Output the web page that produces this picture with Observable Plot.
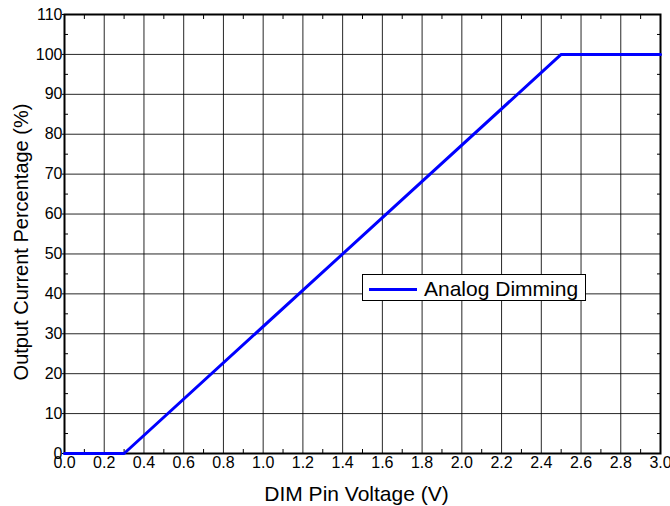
<!DOCTYPE html>
<html>
<head>
<meta charset="utf-8">
<script src="https://cdn.jsdelivr.net/npm/d3@7"></script>
<script src="https://cdn.jsdelivr.net/npm/@observablehq/plot@0.6"></script>
<style>
html, body { margin: 0; padding: 0; background: #fff; }
#wrap { position: relative; width: 670px; height: 506px; font-family: "Liberation Sans", Arial, sans-serif; color: #000; }
#legend { position: absolute; left: 362px; top: 274px; width: 222px; height: 25px; border: 1px solid #000; background: #fff; }
#legend .swatch { position: absolute; left: 6px; top: 12.5px; width: 48px; height: 3px; background: #0000ff; }
#legend .lbl { position: absolute; left: 61px; top: 0px; font-size: 21px; line-height: 27px; white-space: nowrap; }
</style>
</head>
<body>
<div id="wrap"></div>
<script>
// Data
const voltage = [0, 0.3, 2.5, 3.0];           // DIM Pin Voltage (V)
const current = [0, 0, 100, 100];             // Output Current Percentage (%)
const seriesName = "Analog Dimming";

// Tick values
const xTicks = [0, 0.2, 0.4, 0.6, 0.8, 1.0, 1.2, 1.4, 1.6, 1.8, 2.0, 2.2, 2.4, 2.6, 2.8, 3.0];
const yTicks = [0, 10, 20, 30, 40, 50, 60, 70, 80, 90, 100, 110];
const xMinor = [0.1, 0.3, 0.5, 0.7, 0.9, 1.1, 1.3, 1.5, 1.7, 1.9, 2.1, 2.3, 2.5, 2.7, 2.9];
const yMinor = [5, 15, 25, 35, 45, 55, 65, 75, 85, 95, 105];

const xTitle = "DIM Pin Voltage (V)";
const yTitle = "Output Current Percentage (%)";

const rows = voltage.map((v, i) => ({v, c: current[i]}));

const chart = Plot.plot({
  width: 670,
  height: 506,
  marginLeft: 64,
  marginRight: 10,
  marginTop: 14,
  marginBottom: 53,
  style: {fontFamily: "'Liberation Sans', Arial, sans-serif", color: "#000", background: "#fff"},
  x: {domain: [0, 3], axis: null},
  y: {domain: [0, 110], axis: null},
  marks: [
    Plot.ruleX(xTicks, {stroke: "#000", strokeWidth: 1, strokeOpacity: 0.85}),
    Plot.ruleY(yTicks, {stroke: "#000", strokeWidth: 1, strokeOpacity: 0.85}),
    Plot.axisX(xMinor, {anchor: "bottom", tickSize: -4, tickFormat: () => "", label: null}),
    Plot.axisX(xMinor, {anchor: "top", tickSize: -4, tickFormat: () => "", label: null}),
    Plot.axisY(yMinor, {anchor: "left", tickSize: -4, tickFormat: () => "", label: null}),
    Plot.axisY(yMinor, {anchor: "right", tickSize: -4, tickFormat: () => "", label: null}),
    Plot.axisX(xTicks, {anchor: "bottom", tickSize: 0, tickPadding: 3, fontSize: 16, tickFormat: d => d.toFixed(1), label: null}),
    Plot.axisY(yTicks, {anchor: "left", tickSize: 2, tickPadding: 0, fontSize: 16, tickFormat: d => String(d), label: null}),
    Plot.frame({stroke: "#000", strokeWidth: 2}),
    Plot.line(rows, {x: "v", y: "c", stroke: "#0000ff", strokeWidth: 3}),
    Plot.text([xTitle], {frameAnchor: "bottom", textAnchor: "middle", dx: -6, dy: 47, lineAnchor: "bottom", fontSize: 21, fill: "#000"}),
    Plot.text([yTitle], {frameAnchor: "left", textAnchor: "middle", dx: -37, dy: 8, rotate: -90, lineAnchor: "bottom", fontSize: 20, fill: "#000"})
  ]
});

const wrap = document.getElementById("wrap");
wrap.appendChild(chart);

const legend = document.createElement("div");
legend.id = "legend";
legend.innerHTML = '<div class="swatch"></div><div class="lbl"></div>';
legend.querySelector(".lbl").textContent = seriesName;
wrap.appendChild(legend);
</script>
</body>
</html>
